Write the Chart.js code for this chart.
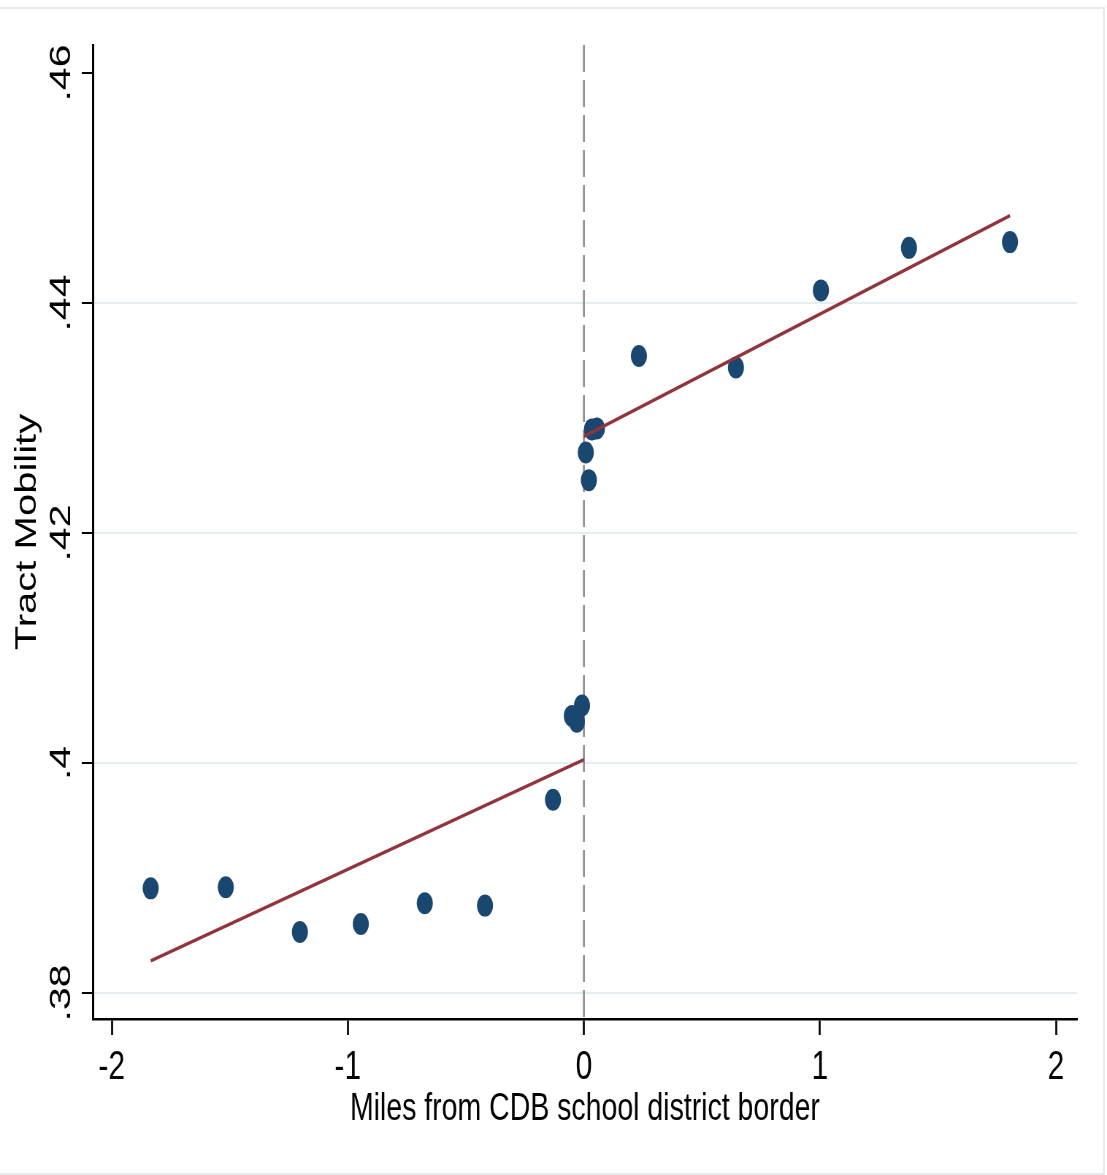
<!DOCTYPE html>
<html>
<head>
<meta charset="utf-8">
<script src="https://cdn.jsdelivr.net/npm/chart.js@4.4.1/dist/chart.umd.min.js"></script>
<style>
  html, body { margin: 0; padding: 0; background: #fff; }
  body { width: 1107px; height: 1175px; position: relative; overflow: hidden; }
  #frame { position: absolute; left: -4px; top: 7px; width: 1105px; height: 1164px; border: 2px solid #e4ecee; }
  /* chart is laid out wide and squeezed horizontally, like the exported graph */
  #wrap { position: absolute; left: 0; top: 0; width: 1516px; height: 1175px; transform: scaleX(0.7302); transform-origin: 0 0; }
</style>
</head>
<body>
<div id="frame"></div>
<div id="wrap"><canvas id="chart" width="1516" height="1175"></canvas></div>
<script>
// binned tract mobility on each side of the border
const leftMiles = [-1.835, -1.517, -1.203, -0.945, -0.674, -0.419, -0.131, -0.051, -0.030, -0.008];
const leftMobility = [0.3891, 0.3892, 0.3853, 0.3860, 0.3878, 0.3876, 0.3968, 0.4041, 0.4036, 0.4050];
const rightMiles = [0.008, 0.021, 0.034, 0.055, 0.233, 0.644, 1.004, 1.377, 1.805];
const rightMobility = [0.4270, 0.4246, 0.4290, 0.4291, 0.4354, 0.4344, 0.4411, 0.4448, 0.4453];

// linear fits
const leftFitMiles = [-1.835, 0];
const leftFit = [0.3828, 0.4003];
const rightFitMiles = [0, 1.805];
const rightFit = [0.4284, 0.4476];

const xTicks = [-2, -1, 0, 1, 2];
const yTicks = [0.38, 0.40, 0.42, 0.44, 0.46];
const yTickLabels = ['.38', '.4', '.42', '.44', '.46'];
const xRange = [-2.0805, 2.089];
const yRange = [0.37774, 0.46244];

const FONT = '"Liberation Sans", Arial, sans-serif';
const NAVY = '#1a476f';
const MAROON = '#90353b';

function toPoints(xs, ys) {
    return xs.map((x, i) => ({ x: x, y: ys[i] }));
}

// dashed line at the border and the rotated y labels
const extras = {
    id: 'extras',
    beforeDatasetsDraw(chart) {
        const { ctx, chartArea, scales } = chart;
        const x0 = scales.x.getPixelForValue(0);
        ctx.save();
        ctx.strokeStyle = '#8c8c8c';
        ctx.lineWidth = 2.6;
        ctx.setLineDash([27, 8]);
        ctx.beginPath();
        ctx.moveTo(x0, chartArea.top);
        ctx.lineTo(x0, chartArea.bottom);
        ctx.stroke();
        ctx.restore();
    },
    afterDraw(chart) {
        const { ctx, scales } = chart;
        ctx.save();
        ctx.fillStyle = '#000';
        ctx.font = '41px ' + FONT;
        ctx.textAlign = 'center';
        ctx.textBaseline = 'alphabetic';
        yTicks.forEach((v, i) => {
            const y = scales.y.getPixelForValue(v);
            ctx.save();
            ctx.translate(96, y);
            ctx.rotate(-Math.PI / 2);
            ctx.fillText(yTickLabels[i], 0, 0);
            ctx.restore();
        });
        ctx.restore();
    }
};

new Chart(document.getElementById('chart'), {
    type: 'scatter',
    data: {
        datasets: [
            {
                data: toPoints(leftFitMiles, leftFit),
                showLine: true, borderColor: MAROON, borderWidth: 3.5,
                pointRadius: 0, order: 0
            },
            {
                data: toPoints(rightFitMiles, rightFit),
                showLine: true, borderColor: MAROON, borderWidth: 3.5,
                pointRadius: 0, order: 0
            },
            {
                data: toPoints(leftMiles, leftMobility),
                backgroundColor: NAVY, borderWidth: 0, pointRadius: 11, order: 1
            },
            {
                data: toPoints(rightMiles, rightMobility),
                backgroundColor: NAVY, borderWidth: 0, pointRadius: 11, order: 1
            }
        ]
    },
    options: {
        responsive: false,
        animation: false,
        devicePixelRatio: 1,
        layout: { padding: { top: 45, right: 41, left: 0, bottom: 0 } },
        plugins: { legend: { display: false }, tooltip: { enabled: false } },
        scales: {
            x: {
                type: 'linear',
                min: xRange[0],
                max: xRange[1],
                afterBuildTicks: s => { s.ticks = xTicks.map(v => ({ value: v })); },
                afterFit: s => { s.height = 156; },
                grid: { drawOnChartArea: false, tickLength: 16, tickColor: '#000', tickWidth: 2.7 },
                border: { color: '#000', width: 2.5 },
                ticks: {
                    color: '#000', font: { family: FONT, size: 41 }, padding: 8,
                    maxRotation: 0, autoSkip: false, callback: v => String(v)
                },
                title: {
                    display: true, text: 'Miles from CDB school district border',
                    color: '#000', font: { family: FONT, size: 39 },
                    padding: { top: 0, bottom: 42 }
                }
            },
            y: {
                type: 'linear',
                min: yRange[0],
                max: yRange[1],
                afterBuildTicks: s => { s.ticks = yTicks.map(v => ({ value: v })); },
                afterFit: s => { s.width = 127; },
                grid: {
                    color: c => (c.tick && c.tick.value === 0.46) ? 'rgba(0,0,0,0)' : '#e4eef0',
                    lineWidth: 2, tickLength: 15, tickColor: '#000', tickWidth: 2
                },
                border: { color: '#000', width: 3 },
                ticks: { display: false },
                title: {
                    display: true, text: 'Tract Mobility',
                    color: '#000', font: { family: FONT, size: 40 },
                    padding: { top: 14, bottom: 0 }
                }
            }
        }
    },
    plugins: [extras]
});
</script>
</body>
</html>
